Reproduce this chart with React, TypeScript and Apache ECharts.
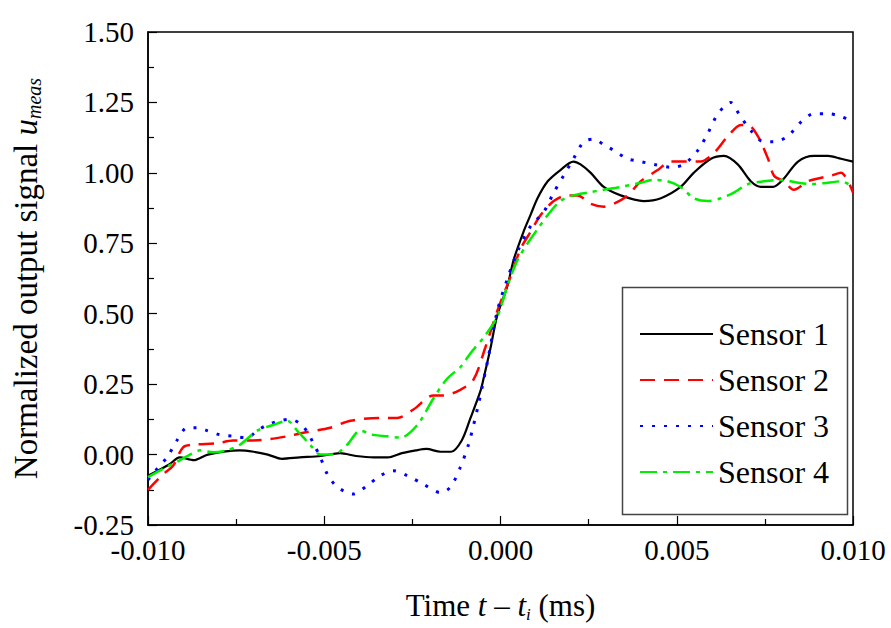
import React, { useEffect, useRef } from "react";
import * as echarts from "echarts";

const xTicks = [-0.01, -0.005, 0, 0.005, 0.01];
const yTicks = [-0.25, 0, 0.25, 0.5, 0.75, 1.0, 1.25, 1.5];

const seriesNames = ["Sensor 1", "Sensor 2", "Sensor 3", "Sensor 4"];

const s1T = [-0.0100, -0.0094, -0.0091, -0.0087, -0.0083, -0.0074, -0.0070, -0.0066, -0.0062, -0.0057, -0.0051, -0.00455, -0.0041, -0.0036, -0.0032, -0.0028, -0.0024, -0.0021, -0.0017, -0.0014, -0.0011, -0.00085, -0.00057, -0.00048, -0.00028, -0.0001, 0.0002, 0.00037, 0.00065, 0.00085, 0.00105, 0.00134, 0.0017, 0.00207, 0.00227, 0.00256, 0.00293, 0.00341, 0.00406, 0.00455, 0.00511, 0.00548, 0.00597, 0.00634, 0.00673, 0.0071, 0.00739, 0.00773, 0.00804, 0.00844, 0.00889, 0.00929, 0.00966, 0.0100];
const s1V = [-0.075, -0.035, -0.01, -0.02, 0.0, 0.015, 0.01, 0.0, -0.015, -0.01, -0.005, 0.005, -0.005, -0.01, -0.01, 0.005, 0.015, 0.02, 0.01, 0.01, 0.05, 0.13, 0.225, 0.27, 0.38, 0.49, 0.6, 0.69, 0.79, 0.85, 0.91, 0.97, 1.01, 1.04, 1.03, 1.0, 0.95, 0.92, 0.9, 0.91, 0.95, 1.0, 1.05, 1.06, 1.03, 0.97, 0.95, 0.95, 0.98, 1.04, 1.06, 1.06, 1.05, 1.04];

const s2T = [-0.0100, -0.00957, -0.00929, -0.00901, -0.00872, -0.00804, -0.00759, -0.0071, -0.00653, -0.00605, -0.00548, -0.00483, -0.00426, -0.00341, -0.00293, -0.00247, -0.0019, -0.00162, -0.00114, -0.00077, -0.00043, -0.00009, 0.00028, 0.00057, 0.00085, 0.00114, 0.00151, 0.0019, 0.00219, 0.00256, 0.00293, 0.00321, 0.00361, 0.00398, 0.00446, 0.00483, 0.00531, 0.00568, 0.00605, 0.00645, 0.00682, 0.00702, 0.0073, 0.00759, 0.00776, 0.00804, 0.00832, 0.00872, 0.00901, 0.00938, 0.00966, 0.0100];
const s2V = [-0.125, -0.07, -0.04, 0.025, 0.035, 0.04, 0.05, 0.05, 0.055, 0.065, 0.08, 0.095, 0.12, 0.13, 0.13, 0.16, 0.21, 0.21, 0.23, 0.265, 0.38, 0.51, 0.63, 0.73, 0.79, 0.85, 0.9, 0.92, 0.92, 0.89, 0.88, 0.89, 0.92, 0.97, 1.01, 1.04, 1.04, 1.04, 1.07, 1.13, 1.17, 1.17, 1.13, 1.05, 0.99, 0.97, 0.94, 0.97, 0.98, 0.99, 1.0, 0.93];

const s3T = [-0.0100, -0.00974, -0.00946, -0.00918, -0.00889, -0.00861, -0.00832, -0.00795, -0.00759, -0.00719, -0.0069, -0.00662, -0.00625, -0.00597, -0.00568, -0.00548, -0.00531, -0.00511, -0.00491, -0.00463, -0.00418, -0.00378, -0.00341, -0.00304, -0.00264, -0.00219, -0.0017, -0.00142, -0.00114, -0.00091, -0.00065, -0.00037, -0.00009, 0.0002, 0.00048, 0.00085, 0.00122, 0.00151, 0.00179, 0.00207, 0.00236, 0.00264, 0.00293, 0.00321, 0.00361, 0.00398, 0.00435, 0.00483, 0.0052, 0.0056, 0.00588, 0.00617, 0.00653, 0.00676, 0.0071, 0.00747, 0.00776, 0.00815, 0.00852, 0.00889, 0.00929, 0.00966, 0.0100];
const s3V = [-0.09, -0.05, -0.01, 0.05, 0.095, 0.095, 0.085, 0.07, 0.065, 0.06, 0.085, 0.105, 0.12, 0.125, 0.11, 0.08, 0.04, -0.01, -0.07, -0.115, -0.14, -0.11, -0.075, -0.057, -0.075, -0.105, -0.135, -0.115, -0.045, 0.035, 0.165, 0.33, 0.51, 0.625, 0.72, 0.81, 0.86, 0.93, 0.99, 1.05, 1.11, 1.12, 1.1, 1.08, 1.05, 1.04, 1.03, 1.02, 1.03, 1.08, 1.14, 1.21, 1.25, 1.21, 1.15, 1.11, 1.11, 1.13, 1.18, 1.21, 1.21, 1.2, 1.18];

const s4T = [-0.0100, -0.00957, -0.00909, -0.00881, -0.00852, -0.00815, -0.00776, -0.00739, -0.0069, -0.00645, -0.00605, -0.00577, -0.0054, -0.00511, -0.00474, -0.00435, -0.00398, -0.00361, -0.00321, -0.00284, -0.00236, -0.0019, -0.00151, -0.00114, -0.00085, -0.00045, -0.00009, 0.0002, 0.00048, 0.00077, 0.00105, 0.00134, 0.0017, 0.00207, 0.00247, 0.00293, 0.00341, 0.00398, 0.00435, 0.00474, 0.00511, 0.00548, 0.00588, 0.00625, 0.00662, 0.00702, 0.00747, 0.00795, 0.00844, 0.00881, 0.00929, 0.00966, 0.0100];
const s4V = [-0.08, -0.05, -0.02, 0.0, 0.015, 0.008, 0.015, 0.035, 0.085, 0.105, 0.12, 0.085, 0.035, 0.0, 0.0, 0.035, 0.085, 0.07, 0.065, 0.06, 0.105, 0.2, 0.27, 0.31, 0.36, 0.42, 0.49, 0.6, 0.69, 0.75, 0.8, 0.85, 0.9, 0.92, 0.93, 0.94, 0.95, 0.965, 0.975, 0.97, 0.95, 0.91, 0.9, 0.91, 0.93, 0.96, 0.97, 0.975, 0.965, 0.96, 0.965, 0.97, 0.95];

const FONT = "'Liberation Serif', 'Times New Roman', serif";

const zip = (t: number[], v: number[]) => t.map((x, i) => [x, v[i]]);

export default function App() {
  const ref = useRef<HTMLDivElement>(null);
  useEffect(() => {
    if (!ref.current) return;
    const chart = echarts.init(ref.current, null, { renderer: "svg" });
    const common = { type: "line", symbol: "none", showSymbol: false, smooth: 0.3 };
    chart.setOption({
      animation: false,
      backgroundColor: "#fff",
      grid: { left: 148, right: 38, top: 32, bottom: 100, show: true, borderColor: "#000", borderWidth: 1.5, backgroundColor: "transparent" },
      xAxis: {
        type: "value",
        min: xTicks[0],
        max: xTicks[xTicks.length - 1],
        interval: 0.005,
        splitLine: { show: false },
        axisLine: { onZero: false, lineStyle: { color: "#000", width: 1.5 } },
        axisTick: { inside: true, length: 9, lineStyle: { color: "#000", width: 1.2 } },
        minorTick: { show: true, splitNumber: 2, length: 6, lineStyle: { color: "#000", width: 1.2 } },
        axisLabel: { formatter: (v: number) => v.toFixed(3), color: "#000", fontSize: 29, fontFamily: FONT, margin: 10 },
        name: "{n|Time }{i|t}{n| \u2013 }{i|t}{s|i}{n| (ms)}",
        nameLocation: "middle",
        nameGap: 62,
        nameTextStyle: {
          color: "#000",
          rich: {
            n: { fontSize: 31, fontFamily: FONT, color: "#000", lineHeight: 36 },
            i: { fontSize: 31, fontFamily: FONT, fontStyle: "italic", color: "#000", lineHeight: 36 },
            s: { fontSize: 17, fontFamily: FONT, fontStyle: "italic", color: "#000", verticalAlign: "bottom", lineHeight: 14 },
          },
        },
      },
      yAxis: {
        type: "value",
        min: yTicks[0],
        max: yTicks[yTicks.length - 1],
        interval: 0.25,
        splitLine: { show: false },
        axisLine: { show: true, onZero: false, lineStyle: { color: "#000", width: 1.5 } },
        axisTick: { show: true, inside: true, length: 9, lineStyle: { color: "#000", width: 1.2 } },
        minorTick: { show: true, splitNumber: 2, length: 6, lineStyle: { color: "#000", width: 1.2 } },
        axisLabel: { formatter: (v: number) => v.toFixed(2), color: "#000", fontSize: 29, fontFamily: FONT, margin: 14 },
        name: "{n|Normalized output signal }{i|u}{s|meas}",
        nameLocation: "middle",
        nameGap: 104,
        nameTextStyle: {
          color: "#000",
          rich: {
            n: { fontSize: 33, fontFamily: FONT, color: "#000", lineHeight: 36 },
            i: { fontSize: 33, fontFamily: FONT, fontStyle: "italic", color: "#000", lineHeight: 36 },
            s: { fontSize: 20, fontFamily: FONT, fontStyle: "italic", color: "#000", verticalAlign: "bottom", lineHeight: 14 },
          },
        },
      },
      legend: {
        orient: "vertical",
        left: 634,
        top: 313,
        itemWidth: 73,
        itemHeight: 14,
        itemGap: 14,
        data: seriesNames,
        itemStyle: { opacity: 0, borderWidth: 0 },
        textStyle: { fontSize: 32, fontFamily: FONT, color: "#000", lineHeight: 32 },
      },
      graphic: [
        { type: "rect", left: 620, top: 285, shape: { width: 225, height: 227 }, style: { fill: "none", stroke: "#444", lineWidth: 1.5 }, z: 10 },
      ],
      series: [
        { ...common, name: seriesNames[0], data: zip(s1T, s1V), lineStyle: { color: "#000", width: 2.2, type: "solid" }, itemStyle: { color: "#000" } },
        { ...common, name: seriesNames[1], data: zip(s2T, s2V), lineStyle: { color: "#ff0000", width: 2.5, type: [15, 9] }, itemStyle: { color: "#ff0000" } },
        { ...common, name: seriesNames[2], data: zip(s3T, s3V), lineStyle: { color: "#0000ff", width: 3, type: [3, 9] }, itemStyle: { color: "#0000ff" } },
        { ...common, name: seriesNames[3], data: zip(s4T, s4V), lineStyle: { color: "#00ee00", width: 2.5, type: [17, 6, 4, 6] }, itemStyle: { color: "#00ee00" } },
      ],
    });
    return () => chart.dispose();
  }, []);
  return <div ref={ref} style={{ width: 891, height: 628, position: "absolute", left: 0, top: 0, background: "#fff" }} />;
}
